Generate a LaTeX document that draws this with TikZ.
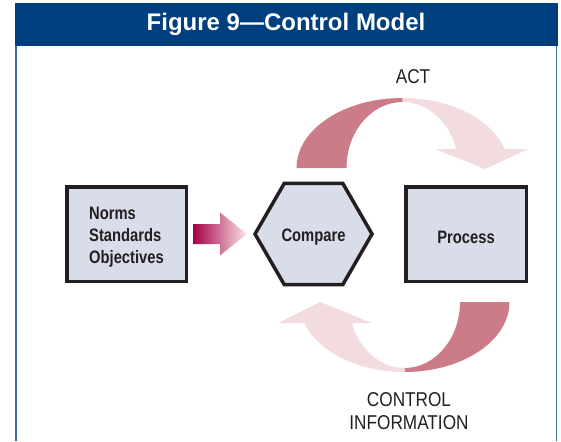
\documentclass[tikz,border=0pt]{standalone}
\usepackage{fontspec}
\setmainfont{Liberation Sans}
\newfontfamily\narrowfont[FakeStretch=0.86]{Liberation Sans}
\newfontfamily\blockfont[FakeStretch=0.82]{Liberation Sans}
\usepackage{xcolor}
\usepackage{tikz}
\usetikzlibrary{shapes,calc}
\usetikzlibrary{positioning}

\definecolor{navy}{HTML}{003F7D}
\definecolor{framecol}{HTML}{3A6CA6}
\definecolor{boxfill}{HTML}{D9DCE9}
\definecolor{boxline}{HTML}{231F20}
\definecolor{rosedark}{HTML}{CC7B88}
\definecolor{roselight}{HTML}{F2DCE0}
\definecolor{crimson}{HTML}{A50046}
\definecolor{blush}{HTML}{FBE6EA}

% text sits a little low in its block
\newcommand{\lowtext}[1]{\raisebox{-3pt}[\height][\depth]{#1}}

\begin{document}
\begin{tikzpicture}[x=1pt,y=-1pt,
		block/.style={line width=3.5pt,draw=boxline,fill=boxfill,text=boxline,font=\blockfont\bfseries\fontsize{18}{22}\selectfont},
		looplabel/.style={font=\narrowfont\fontsize{20}{23}\selectfont,text=boxline,align=center}]
		\useasboundingbox (0,0) rectangle (561,441);
		
		% frame and title
		\fill[navy] (15,3) rectangle (558,46);
		\draw[framecol,line width=1.8pt] (16,46) -- (16,441);
		\draw[framecol,line width=1.8pt] (556.5,46) -- (556.5,441);
		\node[text=white,font=\bfseries\fontsize{24}{28}\selectfont] (title) at (286,24.5) {Figure 9—Control Model};
		
		% blocks
		\node[block,rectangle,minimum width=119.5pt,minimum height=94.5pt] (norms) at (126.5,234) {\lowtext{\begin{tabular}{@{}l@{}}Norms\\Standards\\Objectives\end{tabular}}};
		\node[block,regular polygon,regular polygon sides=6,minimum size=117pt,inner sep=0pt] (compare) [right=65pt of norms] {\lowtext{Compare}};
		\node[block,rectangle,minimum width=120.5pt,minimum height=94.5pt] (process) [right=30pt of compare] {\lowtext{Process}};
		
		% arrow into compare
		\coordinate (s) at ($(norms.east)+(5,0)$);
		\coordinate (t) at ($(compare.west)+(-6,0)$);
		\shade[left color=crimson,right color=blush] ($(s)+(0,-10)$) -- ($(s)+(27,-10)$) -- ($(s)+(27,-21.5)$) -- (t) -- ($(s)+(27,21.5)$) -- ($(s)+(27,10)$) -- ($(s)+(0,10)$) -- cycle;
		
		% act loop
		\coordinate (actc) at (402.5,168);
		\fill[rosedark] ($(actc)+(180:106pt and 70pt)$) arc[start angle=180,end angle=90,x radius=106pt,y radius=70pt] -- ($(actc)+(90:56pt and 66pt)$) arc[start angle=90,end angle=180,x radius=56pt,y radius=66pt] -- cycle;
		\fill[roselight] ($(actc)+(90:106pt and 70pt)$) arc[start angle=90,end angle=15.75,x radius=106pt,y radius=70pt] -- (528,149) -- (485,169) -- (435,149) -- ($(actc)+(16.7:56pt and 66pt)$) arc[start angle=16.7,end angle=90,x radius=56pt,y radius=66pt] -- cycle;
		\node[looplabel] (act) at (413,77) {ACT};
		
		% control information loop
		\coordinate (infc) at (404.5,302);
		\fill[rosedark] ($(infc)+(0:105pt and 70pt)$) arc[start angle=0,end angle=-90,x radius=105pt,y radius=70pt] -- ($(infc)+(-90:55.5pt and 66pt)$) arc[start angle=-90,end angle=0,x radius=55.5pt,y radius=66pt] -- cycle;
		\fill[roselight] ($(infc)+(-90:105pt and 70pt)$) arc[start angle=-90,end angle=-162.5,x radius=105pt,y radius=70pt] -- (278,323) -- (320,302) -- (372,323) -- ($(infc)+(-161.4:55.5pt and 66pt)$) arc[start angle=-161.4,end angle=-90,x radius=55.5pt,y radius=66pt] -- cycle;
		\node[looplabel] (info) at (409,411) {CONTROL\\INFORMATION};
		
	\end{tikzpicture}
\end{document}
